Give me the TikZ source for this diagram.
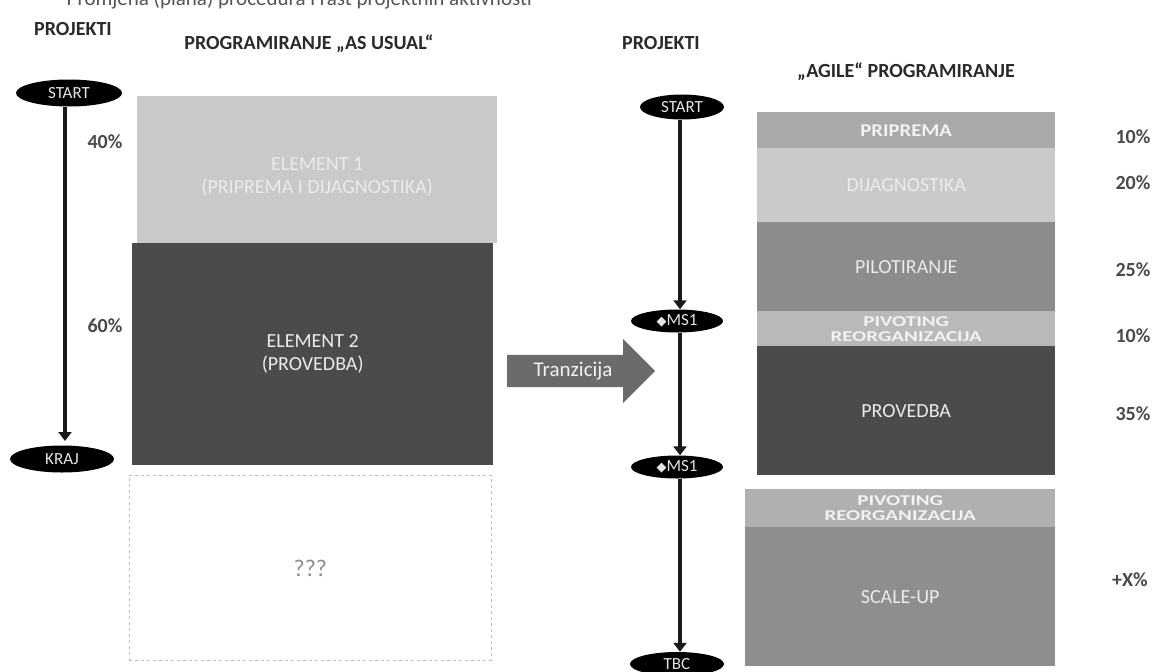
\documentclass[tikz,border=0pt]{standalone}
\usepackage{fontspec}
\setmainfont{Carlito}
\newfontfamily\symf{DejaVu Sans}
\usetikzlibrary{shapes.geometric,arrows.meta,shapes.arrows}
\definecolor{txt}{HTML}{2A2A2A}
\definecolor{gA}{HTML}{C9C9C9}
\definecolor{gB}{HTML}{4B4B4B}
\definecolor{gC}{HTML}{A9A9A9}
\definecolor{gD}{HTML}{CACACA}
\definecolor{gE}{HTML}{8C8C8C}
\definecolor{gF}{HTML}{B9B9B9}
\definecolor{gG}{HTML}{8E8E8E}
\newcommand{\dia}{{\symf\fontsize{13}{14}\selectfont ◆}}
\newcommand{\wide}[1]{\scalebox{1.4}[1]{#1}}
\tikzset{
  hdr/.style={font=\fontsize{20}{22}\selectfont\bfseries, text=txt, inner sep=0},
  pct/.style={font=\fontsize{20}{22}\selectfont\bfseries, text=txt!85, inner sep=0},
  blk/.style={draw=none, anchor=north west, inner sep=0, align=center, text=white!92!black,
     font=\fontsize{20}{23}\selectfont},
  piv/.style={blk, font=\fontsize{15}{15}\selectfont\bfseries, text=white!95!black},
  ms/.style={ellipse, fill=black, text=white!90!black, inner sep=0, minimum width=92, minimum height=23,
     font=\fontsize{17}{18}\selectfont},
  tl/.style={line width=4.5pt, draw=black!90, -{Triangle[width=13pt,length=9pt]}},
}
\begin{document}
\begin{tikzpicture}[x=1pt,y=-1pt]
\useasboundingbox (0,0) rectangle (1170,672);
\fill[white] (0,0) rectangle (1170,672);
\begin{scope}
\clip (0,0) rectangle (1170,672);
\node[anchor=east, font=\fontsize{21}{23}\selectfont, text=txt!80, inner sep=0] (ttl) at (532,0)
  {Promjena (plana) procedura i rast projektnih aktivnosti};
% headers
\node[hdr] (p1) at (73,29) {PROJEKTI};
\node[hdr] (h1) at (309,44) {PROGRAMIRANJE „AS USUAL“};
\node[hdr] (p2) at (661,43) {PROJEKTI};
\node[hdr] (h2) at (906,72) {„AGILE“ PROGRAMIRANJE};
% left timeline
\node[ms, minimum width=106, minimum height=27] (s1) at (69,93) {START};
\node[ms, minimum width=104, minimum height=27] (k1) at (62,459) {KRAJ};
\draw[tl] (s1.south -| 65,0) -- (65,441) coordinate (kt);
\node[pct] (l40) at (105,142) {40\%};
\node[pct] (l60) at (105,326) {60\%};
% left blocks
\node[blk, fill=gA, minimum width=360, minimum height=147] (e1) at (137,96)
  {\\[4pt]ELEMENT 1\\(PRIPREMA I DIJAGNOSTIKA)};
\node[blk, fill=gB, minimum width=361, minimum height=222] (e2) at (132,243)
  {ELEMENT 2\\(PROVEDBA)};
\node[blk, draw=black!25, dashed, line width=0.8pt, minimum width=362, minimum height=185,
  text=black!45, font=\fontsize{24}{26}\selectfont] (e3) at (129,475) {???};
% transition arrow
\node[single arrow, fill=black!58, text=white!95!black, inner xsep=3pt, inner ysep=6pt, minimum height=148,
  minimum width=64, single arrow head extend=15pt, single arrow tip angle=90,
  font=\fontsize{21}{23}\selectfont, anchor=west] (tr) at (507,371) {Tranzicija\hspace{16pt}};
% right timeline
\node[ms, minimum width=84, minimum height=25] (s2) at (682,107) {START};
\node[ms] (m1) at (677,321) {\dia MS1};
\node[ms] (m2) at (677,467) {\dia MS1};
\node[ms, minimum width=94, minimum height=24] (tb) at (677,664) {TBC};
\draw[tl] (s2.south -| 680,0) -- (m1.north -| 680,0);
\draw[tl] (m1.south -| 680,0) -- (m2.north -| 680,0);
\draw[tl] (m2.south -| 680,0) -- (tb.north -| 680,0);
% right blocks
\node[piv, fill=gC, minimum width=298, minimum height=36, font=\fontsize{18}{18}\selectfont\bfseries] (b1) at (757,112) {\scalebox{1.15}[1]{PRIPREMA}};
\node[blk, fill=gD, minimum width=298, minimum height=74] (b2) at (757,148) {DIJAGNOSTIKA};
\node[blk, fill=gE, minimum width=298, minimum height=90] (b3) at (757,222) {PILOTIRANJE};
\node[piv, fill=gF, minimum width=298, minimum height=35] (b4) at (757,311) {\wide{PIVOTING}\\\wide{REORGANIZACIJA}};
\node[blk, fill=gB, minimum width=298, minimum height=129] (b5) at (757,346) {PROVEDBA};
\node[piv, fill=gF!95!black, minimum width=310, minimum height=38] (b6) at (745,489) {\wide{PIVOTING}\\\wide{REORGANIZACIJA}};
\node[blk, fill=gG, minimum width=310, minimum height=139] (b7) at (745,527) {SCALE-UP};
% percentages
\node[pct] (r1) at (1133,137) {10\%};
\node[pct] (r2) at (1133,183) {20\%};
\node[pct] (r3) at (1133,270) {25\%};
\node[pct] (r4) at (1133,336) {10\%};
\node[pct] (r5) at (1133,414) {35\%};
\node[pct] (r6) at (1130,580) {+X\%};
\end{scope}
\end{tikzpicture}
\end{document}
